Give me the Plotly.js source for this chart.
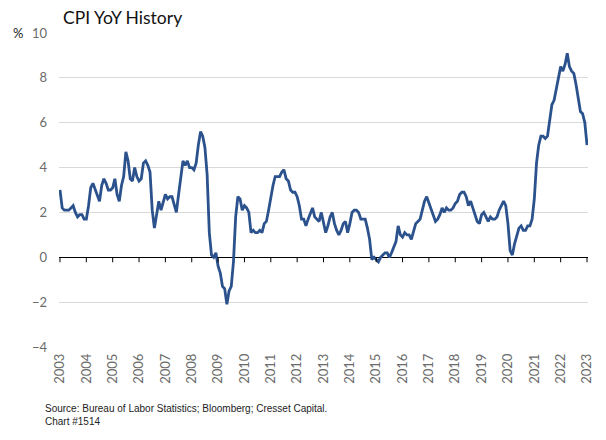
<!DOCTYPE html>
<html>
<head>
<meta charset="utf-8">
<script src="https://cdn.plot.ly/plotly-3.0.1.min.js"></script>
<style>html,body{margin:0;padding:0;background:#fff;}#chart{width:606px;height:440px;}</style>
</head>
<body>
<div id="chart"></div>
<script>
// Monthly CPI YoY (%) from Mar 2003 to Mar 2023
const startYear = 2003, startMonth = 3;
const cpiYoY = [
  3.0, 2.2, 2.1, 2.1, 2.1, 2.2, 2.3, 2.0, 1.8, 1.9,            // 2003 Mar-Dec
  1.9, 1.7, 1.7, 2.3, 3.1, 3.3, 3.0, 2.7, 2.5, 3.2, 3.5, 3.3,  // 2004
  3.0, 3.0, 3.1, 3.5, 2.8, 2.5, 3.2, 3.6, 4.7, 4.3, 3.5, 3.4,  // 2005
  4.0, 3.6, 3.4, 3.5, 4.2, 4.3, 4.1, 3.8, 2.1, 1.3, 2.0, 2.5,  // 2006
  2.1, 2.4, 2.8, 2.6, 2.7, 2.7, 2.4, 2.0, 2.8, 3.5, 4.3, 4.1,  // 2007
  4.3, 4.0, 4.0, 3.9, 4.2, 5.0, 5.6, 5.4, 4.9, 3.7, 1.1, 0.1,  // 2008
  0.0, 0.2, -0.4, -0.7, -1.3, -1.4, -2.1, -1.5, -1.3, -0.2, 1.8, 2.7, // 2009
  2.6, 2.1, 2.3, 2.2, 2.0, 1.1, 1.2, 1.1, 1.1, 1.2, 1.1, 1.5,  // 2010
  1.6, 2.1, 2.7, 3.2, 3.6, 3.6, 3.6, 3.8, 3.9, 3.5, 3.4, 3.0,  // 2011
  2.9, 2.9, 2.7, 2.3, 1.7, 1.7, 1.4, 1.7, 2.0, 2.2, 1.8, 1.7,  // 2012
  1.6, 2.0, 1.5, 1.1, 1.4, 1.8, 2.0, 1.5, 1.2, 1.0, 1.2, 1.5,  // 2013
  1.6, 1.1, 1.5, 2.0, 2.1, 2.1, 2.0, 1.7, 1.7, 1.7, 1.3, 0.8,  // 2014
  -0.1, 0.0, -0.1, -0.2, 0.0, 0.1, 0.2, 0.2, 0.0, 0.2, 0.5, 0.7, // 2015
  1.4, 1.0, 0.9, 1.1, 1.0, 1.0, 0.8, 1.1, 1.5, 1.6, 1.7, 2.1,  // 2016
  2.5, 2.7, 2.4, 2.2, 1.9, 1.6, 1.7, 1.9, 2.2, 2.0, 2.2, 2.1,  // 2017
  2.1, 2.2, 2.4, 2.5, 2.8, 2.9, 2.9, 2.7, 2.3, 2.5, 2.2, 1.9,  // 2018
  1.6, 1.5, 1.9, 2.0, 1.8, 1.6, 1.8, 1.7, 1.7, 1.8, 2.1, 2.3,  // 2019
  2.5, 2.3, 1.5, 0.3, 0.1, 0.6, 1.0, 1.3, 1.4, 1.2, 1.2, 1.4,  // 2020
  1.4, 1.7, 2.6, 4.2, 5.0, 5.4, 5.4, 5.3, 5.4, 6.2, 6.8, 7.0,  // 2021
  7.5, 7.9, 8.5, 8.3, 8.6, 9.1, 8.5, 8.3, 8.2, 7.7, 7.1, 6.5,  // 2022
  6.4, 6.0, 5.0                                                // 2023 Jan-Mar
];
const yearLabels = ['2003','2004','2005','2006','2007','2008','2009','2010','2011','2012','2013',
  '2014','2015','2016','2017','2018','2019','2020','2021','2022','2023'];
const yTicks = [-4, -2, 0, 2, 4, 6, 8, 10];

// month category labels
const months = cpiYoY.map((_, i) => {
  const m0 = startMonth - 1 + i;
  const y = startYear + Math.floor(m0 / 12);
  const m = (m0 % 12) + 1;
  return y + '-' + String(m).padStart(2, '0');
});
const yearTickVals = yearLabels.map(y => y + '-' + String(startMonth).padStart(2, '0'));

const tickShapes = yearTickVals.map(v => ({
  type: 'line', xref: 'x', yref: 'y', x0: v, x1: v,
  ysizemode: 'pixel', yanchor: 0, y0: 0, y1: -5,
  line: {color: '#000', width: 1}
}));

const trace = {
  x: months, y: cpiYoY, type: 'scatter', mode: 'lines',
  line: {color: '#2B528C', width: 2.8}, hoverinfo: 'skip'
};

const tickFont = {family: 'Lato, "Open Sans", sans-serif', size: 13, color: '#6b6b6b'};

const layout = {
  width: 606, height: 440,
  margin: {l: 59, r: 18, t: 33, b: 93},
  paper_bgcolor: '#fff', plot_bgcolor: '#fff',
  showlegend: false,
  title: {text: 'CPI YoY History', x: 63/606, xanchor: 'left', xref: 'container',
          y: 1 - 18/440, yanchor: 'middle', yref: 'container',
          font: {family: 'Lato, "Open Sans", sans-serif', size: 17.5, color: '#111'}},
  xaxis: {
    type: 'category', range: [-0.45, months.length - 1 + 0.45],
    tickmode: 'array', tickvals: yearTickVals, ticktext: yearLabels,
    tickangle: -90, ticks: '', showgrid: false, showline: false, zeroline: false,
    ticklabelstandoff: 3,
    tickfont: tickFont
  },
  yaxis: {
    range: [-4, 10], tickmode: 'array', tickvals: yTicks,
    showgrid: true, gridcolor: '#d9d9d9', gridwidth: 1,
    zeroline: true, zerolinecolor: '#000', zerolinewidth: 1.5,
    showline: false, ticks: '', ticklabelstandoff: 11,
    tickfont: tickFont
  },
  shapes: tickShapes,
  annotations: [
    {text: '%', xref: 'paper', yref: 'paper', x: (18 - 59)/529, y: 1, xanchor: 'center', yanchor: 'middle',
     showarrow: false, font: {family: 'Lato, "Open Sans", sans-serif', size: 13, color: '#222'}},
    {text: 'Source: Bureau of Labor Statistics; Bloomberg; Cresset Capital.<br>Chart #1514',
     xref: 'paper', yref: 'paper', x: (43 - 59)/529, y: -(401 - 347)/314, xanchor: 'left', yanchor: 'top',
     align: 'left', showarrow: false,
     font: {family: '"Liberation Sans Narrow", "Liberation Sans", Arial, sans-serif', size: 10, color: '#222'}}
  ]
};

Plotly.newPlot('chart', [trace], layout, {displayModeBar: false, staticPlot: true});
</script>
</body>
</html>
